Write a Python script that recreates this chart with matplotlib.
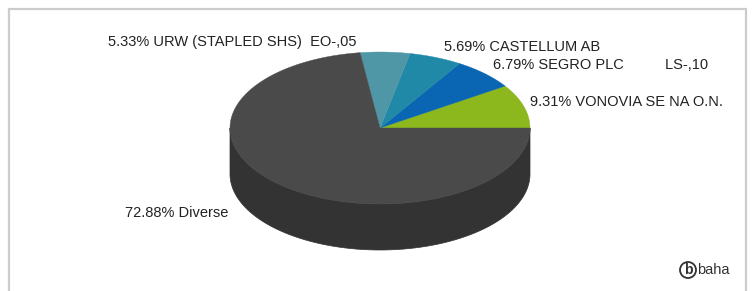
import numpy as np
import matplotlib
matplotlib.use("Agg")
import matplotlib.pyplot as plt
from matplotlib.patches import Polygon, Circle

# ---- data ----
labels = ["VONOVIA SE NA O.N.", "SEGRO PLC          LS-,10", "CASTELLUM AB",
          "URW (STAPLED SHS)  EO-,05", "Diverse"]
values = [9.31, 6.79, 5.69, 5.33, 72.88]
colors = ["#8cb81e", "#0a66b2", "#2089a8", "#4f97a6", "#4a4a4a"]
side_colors = ["#6d9016", "#084f8a", "#186a82", "#3d7581", "#333333"]

plt.rcParams['font.family'] = ['Liberation Sans', 'DejaVu Sans']

W, H = 754, 291
fig = plt.figure(figsize=(W / 100, H / 100), dpi=100)
ax = fig.add_axes([0, 0, 1, 1])
ax.set_xlim(0, W)
ax.set_ylim(H, 0)
ax.axis("off")

# frame
ax.plot([9, 9, 746, 746], [H + 5, 9, 9, H + 5], color="#cccccc", lw=1.6,
        solid_joinstyle="miter", zorder=1)

cx, cy, rx, ry, depth = 380, 128, 150, 76, 46


def pt(theta_deg):
    t = np.radians(theta_deg)
    return cx + rx * np.cos(t), cy - ry * np.sin(t)


fr = np.array(values) / sum(values)
edges = np.concatenate([[0], np.cumsum(fr) * 360])

# side walls (front half only: angles 180..360)
for i in range(len(values)):
    a0, a1 = edges[i], edges[i + 1]
    lo, hi = max(a0, 180), min(a1, 360)
    if hi > lo:
        th = np.linspace(lo, hi, 200)
        xs, ys = pt(th)
        top = np.column_stack([xs, ys])
        bot = np.column_stack([xs, ys + depth])[::-1]
        ax.add_patch(Polygon(np.vstack([top, bot]), closed=True,
                             facecolor=side_colors[i], edgecolor=side_colors[i],
                             lw=0.5, zorder=2))

# top wedges
for i in range(len(values)):
    a0, a1 = edges[i], edges[i + 1]
    th = np.linspace(a0, a1, 300)
    xs, ys = pt(th)
    poly = np.vstack([[cx, cy], np.column_stack([xs, ys])])
    ax.add_patch(Polygon(poly, closed=True, facecolor=colors[i],
                         edgecolor=colors[i], lw=0.3, zorder=3))

# labels
fs = 10.5
tc = "#222222"
lab_pos = {
    0: (530, 102, "left"),
    1: (493, 65, "left"),
    2: (444, 47, "left"),
    3: (108, 42, "left"),
    4: (125, 213, "left"),
}
for i, (x, y, ha) in lab_pos.items():
    ax.text(x, y, f"{values[i]:.2f}% {labels[i]}", fontsize=fs, color=tc,
            ha=ha, va="center", zorder=5)

# baha logo
ax.add_patch(Circle((688, 270), 8, facecolor="white", edgecolor="#333333",
                    lw=1.3, zorder=5))
ax.text(688, 270.5, "b", fontsize=10, fontweight="bold", color="#333333",
        ha="center", va="center", zorder=6)
ax.text(697, 270.5, "baha", fontsize=10.5, color="#333333", ha="left",
        va="center", zorder=6)

fig.savefig("out.png", dpi=100)
